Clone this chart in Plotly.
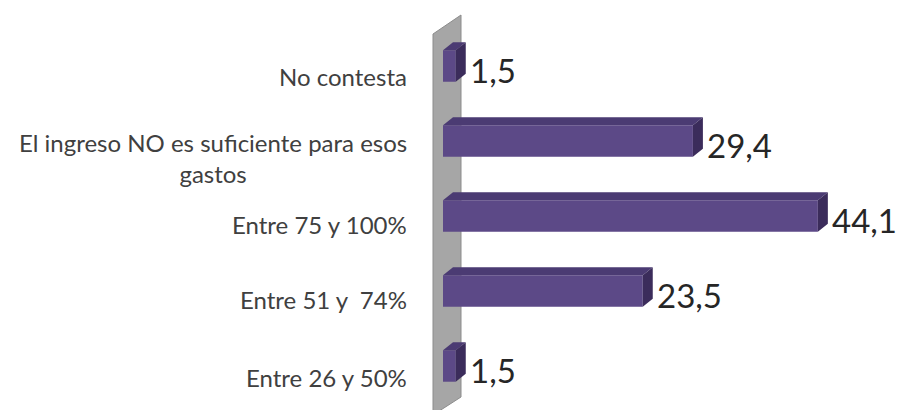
import plotly.graph_objects as go

# categories from bottom to top
categories = [
    "Entre 26 y 50%",
    "Entre 51 y  74%",
    "Entre 75 y 100%",
    "El ingreso NO es suficiente para esos<br>gastos",
    "No contesta",
]
values = [1.5, 23.5, 44.1, 29.4, 1.5]
label_drop = [12, 9, 9, 17, 10]  # label sits a little below each bar

W, H = 903, 410
L = 443  # left margin in px, x=0 sits here
x_range = [0, (W - L) / 8.5]
y_range = [-0.587, 4.88]

front = "#5c4987"
top = "#4b3b73"
side = "#3b2c5b"
wall = "#a6a6a6"

bar_w = 0.42
dx = 10 / 8.5
dy = 8 / 75

ypos = list(range(len(categories)))

fig = go.Figure()

# wall behind the bars (paper coords computed from pixel positions)
def px(x):
    return (x - L) / (W - L)

def py(y):
    return 1 - y / H

wall_pts = [(433, 34), (461, 15), (461, 397), (433, 415)]
path = "M " + " L ".join(f"{px(a)},{py(b)}" for a, b in wall_pts) + " Z"
fig.add_shape(type="path", path=path, xref="paper", yref="paper",
              fillcolor=wall, line=dict(color="#8c8c8c", width=1), layer="below")

fig.add_trace(go.Bar(
    x=values, y=ypos, orientation="h", width=bar_w,
    marker=dict(color=front, line=dict(width=0)),
    hoverinfo="skip",
))

# top faces and side faces built from the values
tx, ty, sx, sy = [], [], [], []
for v, c in zip(values, ypos):
    h = bar_w / 2
    tx += [0, dx, v + dx, v, 0, None]
    ty += [c + h, c + h + dy, c + h + dy, c + h, c + h, None]
    sx += [v, v + dx, v + dx, v, v, None]
    sy += [c - h, c - h + dy, c + h + dy, c + h, c - h, None]

fig.add_trace(go.Scatter(x=tx, y=ty, fill="toself", fillcolor=top, mode="lines",
                         line=dict(width=0, color=top), hoverinfo="skip"))
fig.add_trace(go.Scatter(x=sx, y=sy, fill="toself", fillcolor=side, mode="lines",
                         line=dict(width=0, color=side), hoverinfo="skip"))

for cat, v, c, d in zip(categories, values, ypos, label_drop):
    fig.add_annotation(x=px(409), y=c, xref="paper", yref="y", text=cat,
                       xanchor="right", yanchor="middle", align="center",
                       showarrow=False, yshift=-d,
                       font=dict(family="Lato", size=24, color="#404040"))
    fig.add_annotation(x=v, y=c, xref="x", yref="y",
                       text=f"{v:.1f}".replace(".", ","),
                       xanchor="left", yanchor="middle", showarrow=False,
                       xshift=12, yshift=-4,
                       font=dict(family="Lato", size=33, color="#262626"))

fig.update_xaxes(range=x_range, visible=False, showgrid=False, zeroline=False)
fig.update_yaxes(range=y_range, visible=False, showgrid=False, zeroline=False)
fig.update_layout(
    width=W, height=H,
    margin=dict(l=L, r=0, t=0, b=0),
    plot_bgcolor="white", paper_bgcolor="white",
    showlegend=False,
)

fig.write_html("out.html", config=dict(displayModeBar=False),
               post_script="document.body.style.margin='0';")
